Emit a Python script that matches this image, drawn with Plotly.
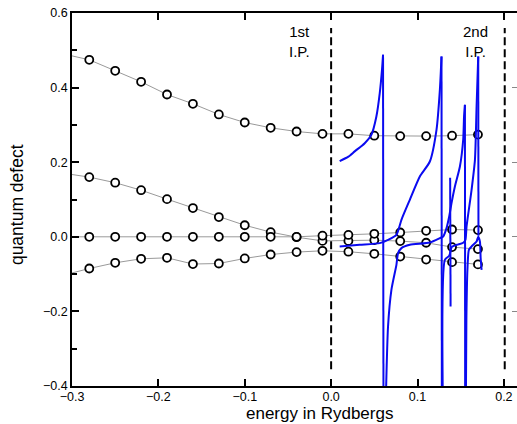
import plotly.graph_objects as go

# Bound-state quantum defects below the 1st ionization potential and their
# continuation above it (energies in Rydbergs).
energy = [-0.28, -0.25, -0.22, -0.19, -0.16, -0.13, -0.10, -0.07,
          -0.04, -0.01, 0.02, 0.05, 0.08, 0.11, 0.14, 0.17]

defect_a = [0.4745, 0.445, 0.4155, 0.3815, 0.3566, 0.328, 0.3064, 0.2922,
            0.2823, 0.276, 0.276, 0.271, 0.270, 0.270, 0.271, 0.274]
defect_b = [0.160, 0.145, 0.125, 0.101, 0.077, 0.053, 0.031, 0.0126,
            -0.001, -0.011, -0.011, -0.009, -0.0115, -0.016, -0.0276, -0.033]
defect_c = [0.0, 0.0, 0.0, 0.0, 0.0, 0.0, 0.0, 0.0,
            0.0, 0.003, 0.005, 0.008, 0.0115, 0.016, 0.0196, 0.018]
defect_d = [-0.085, -0.0697, -0.059, -0.0563, -0.073, -0.0716, -0.058, -0.0475,
            -0.041, -0.0375, -0.040, -0.0456, -0.053, -0.061, -0.068, -0.074]

# values of each guide line at the left edge of the energy axis
edge_energy = -0.30
edge_defects = [0.485, 0.167, 0.0, -0.097]

# Multichannel quantum-defect curves: smooth part of each branch ...
mqdt_branches = [
    ([0.0099, 0.0200, 0.0273, 0.0389, 0.0466, 0.0524, 0.0563, 0.0589, 0.0601],
     [0.203, 0.215, 0.229, 0.251, 0.2735, 0.3225, 0.385, 0.448, 0.488]),
    ([0.0632, 0.0659, 0.0698, 0.0756, 0.0775, 0.0814, 0.0911, 0.1143, 0.1259,
      0.1297, 0.1336, 0.1367, 0.1394, 0.1433, 0.1491, 0.1529, 0.1539, 0.1549],
     [-0.45, -0.2405, -0.142, -0.0751, -0.0437, -0.0303, -0.0214, -0.0153, -0.0035,
      0.0008, 0.0233, 0.0544, 0.0903, 0.1349, 0.1885, 0.2601, 0.3225, 0.3539]),
    ([0.0099, 0.0331, 0.0563, 0.0659, 0.0756, 0.0814, 0.0911, 0.1027, 0.1143,
      0.1220, 0.1259, 0.1278],
     [-0.026, -0.0214, -0.0169, -0.008, 0.0054, 0.0456, 0.0992, 0.1617, 0.2019,
      0.2869, 0.394, 0.4834]),
    ([0.1378, 0.1383],
     [0.158, -0.187]),
    ([0.1294, 0.1317, 0.1367, 0.1398, 0.1456, 0.1529, 0.1555, 0.1568, 0.1626,
      0.1665, 0.1684, 0.1703],
     [-0.45, -0.0617, -0.051, -0.027, -0.0214, -0.016, -0.008, 0.0276, 0.126,
      0.2064, 0.349, 0.4834]),
    ([0.1560, 0.1566, 0.1578, 0.1595, 0.1626, 0.1684, 0.1703, 0.1723, 0.1731, 0.1742],
     [-0.45, -0.2225, -0.0885, -0.0349, -0.026, -0.0126, 0.0, -0.0134, -0.0563, -0.0885]),
]
# ... and where each branch falls away after its pole (None: no drop)
mqdt_drops = [(0.0606, -0.45), (0.1552, -0.45), (0.1282, -0.45), None,
              (0.1706, 0.003), None]

# ionization thresholds
thresholds = [0.0, 0.201]
threshold_labels = ["1st<br>I.P.", "2nd<br>I.P."]
label_energy = [-0.0365, 0.1676]

x_ticks = [-0.3, -0.2, -0.1, 0.0, 0.1, 0.2]
y_ticks = [-0.4, -0.2, 0.0, 0.2, 0.4, 0.6]


def fmt(v):
    return f"{v:.1f}".replace("-", "\u2212")


FONT = "Liberation Sans, Arial, Helvetica, sans-serif"
BLUE = "#0a0af0"

fig = go.Figure()

for series, start in zip([defect_a, defect_b, defect_c, defect_d], edge_defects):
    fig.add_trace(go.Scatter(
        x=[edge_energy] + energy, y=[start] + series, mode="lines",
        line=dict(color="#9a9a9a", width=1), hoverinfo="skip", showlegend=False))

for series in [defect_a, defect_b, defect_c, defect_d]:
    fig.add_trace(go.Scatter(
        x=energy, y=series, mode="markers",
        marker=dict(symbol="circle", size=8, color="white",
                    line=dict(color="black", width=1.8)),
        showlegend=False))

for (bx, by), drop in zip(mqdt_branches, mqdt_drops):
    fig.add_trace(go.Scatter(
        x=bx, y=by, mode="lines",
        line=dict(color=BLUE, width=2, shape="spline", smoothing=0.6),
        showlegend=False))
    if drop is not None:
        fig.add_trace(go.Scatter(
            x=[bx[-1], drop[0]], y=[by[-1], drop[1]], mode="lines",
            line=dict(color=BLUE, width=2), showlegend=False))

# empty trace that carries the top / right frame axes
fig.add_trace(go.Scatter(x=[], y=[], xaxis="x2", yaxis="y2",
                         showlegend=False, hoverinfo="skip"))

for e in thresholds:
    fig.add_shape(type="line", x0=e, x1=e, y0=-0.355, y1=0.56,
                  xref="x", yref="y",
                  line=dict(color="black", width=2, dash="8px,4px"))

for txt, xe in zip(threshold_labels, label_energy):
    fig.add_annotation(x=xe, y=0.524, xref="x", yref="y", text=txt,
                       showarrow=False, align="center",
                       font=dict(family=FONT, size=15, color="black"))

fig.add_annotation(x=-0.014, y=0, xref="x", yref="paper", yshift=-38,
                   text="energy in Rydbergs", showarrow=False,
                   yanchor="bottom", xanchor="center", borderpad=0,
                   font=dict(family=FONT, size=17, color="black"))
fig.add_annotation(x=0, y=0.485, xref="paper", yref="paper", xshift=-55,
                   text="quantum defect", showarrow=False, textangle=-90,
                   yanchor="middle", xanchor="center",
                   font=dict(family=FONT, size=17.5, color="black"))

X_RANGE = [-0.3, 0.2152]
Y_RANGE = [-0.4, 0.6]

fig.update_layout(
    width=517, height=424,
    margin=dict(l=72, r=0, t=13, b=38),
    paper_bgcolor="white", plot_bgcolor="white",
    font=dict(family=FONT, size=12, color="black"),
    xaxis=dict(
        range=X_RANGE, tickvals=x_ticks, ticktext=[fmt(v) for v in x_ticks],
        ticks="inside", ticklen=7, tickwidth=1.5, tickcolor="black",
        ticklabelstandoff=-2,
        showline=True, linecolor="black", linewidth=1.5,
        showgrid=False, zeroline=False, tickfont=dict(size=12.5),
    ),
    yaxis=dict(
        range=Y_RANGE, tickvals=y_ticks, ticktext=[fmt(v) for v in y_ticks],
        ticks="inside", ticklen=7, tickwidth=1.5, tickcolor="black",
        minor=dict(dtick=0.1, tick0=0.1, ticks="inside", ticklen=5,
                   tickcolor="black"),
        showline=True, linecolor="black", linewidth=1.5,
        showgrid=False, zeroline=False, tickfont=dict(size=12.5),
    ),
    xaxis2=dict(
        overlaying="x", side="top", range=X_RANGE, tickvals=x_ticks,
        ticks="inside", ticklen=7, tickwidth=1.5, tickcolor="black",
        showticklabels=False, showline=True, linecolor="black", linewidth=1.5,
        showgrid=False, zeroline=False,
    ),
    yaxis2=dict(
        overlaying="y", side="right", range=Y_RANGE, tickvals=y_ticks,
        ticks="inside", ticklen=5, tickwidth=1, tickcolor="#888888",
        showticklabels=False, showline=False,
        showgrid=False, zeroline=False,
    ),
)

fig.write_html("out.html")
